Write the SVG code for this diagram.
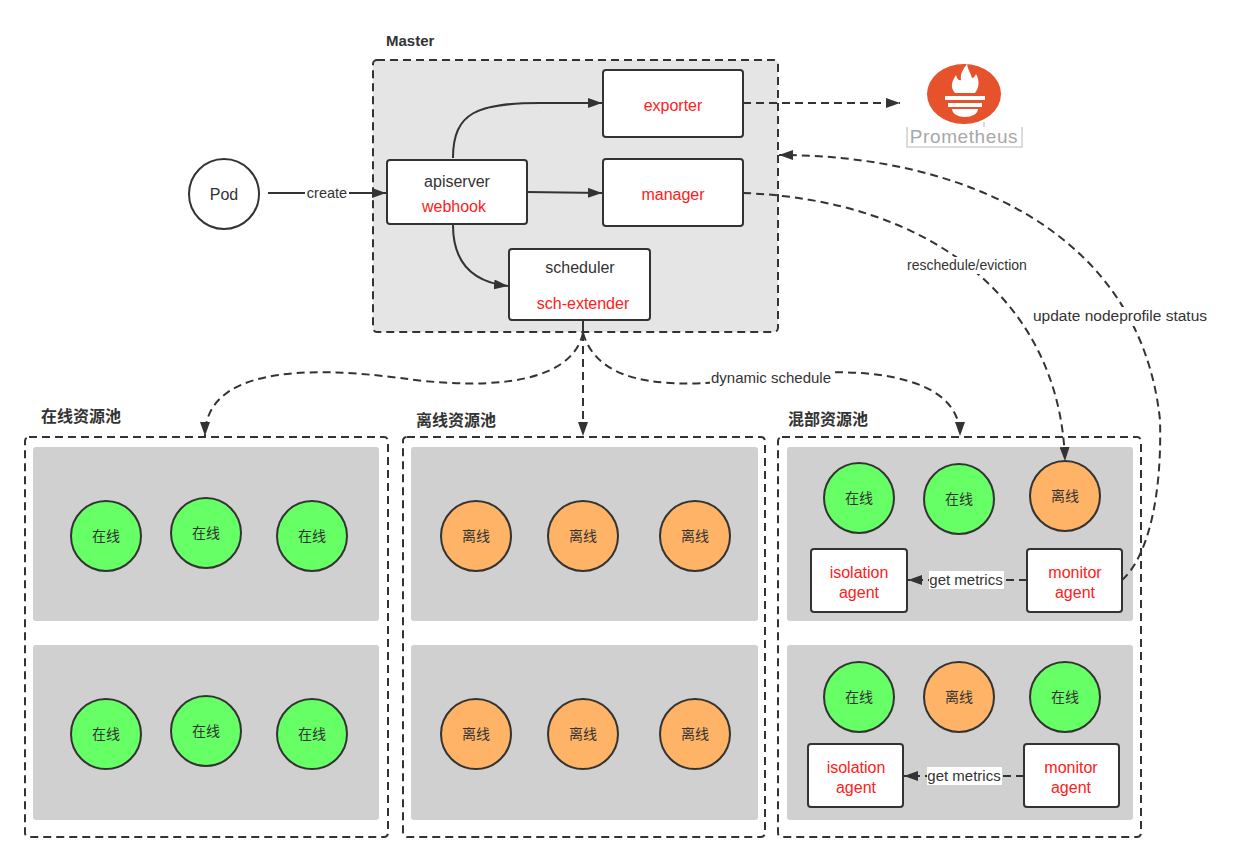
<svg xmlns="http://www.w3.org/2000/svg" width="1258" height="863" viewBox="0 0 1258 863">
<style>
text{font-family:"Liberation Sans","Noto Sans CJK SC",sans-serif;}
.t{font-size:16px;fill:#333;text-anchor:middle;}
.r{font-size:16px;fill:#ff2020;text-anchor:middle;}
.c{font-size:14px;fill:#333;text-anchor:middle;font-family:"Noto Sans CJK SC",sans-serif;}
.lbl{font-size:14.5px;fill:#333;text-anchor:middle;}
.h{font-size:16px;font-weight:bold;fill:#333;font-family:"Noto Sans CJK SC",sans-serif;}
.box{fill:#fff;stroke:#333;stroke-width:2;}
.pool{fill:none;stroke:#333;stroke-width:2;stroke-dasharray:8 5;}
.panel{fill:#d0d0d0;}
.on{fill:#66ff66;stroke:#333;stroke-width:2;}
.off{fill:#ffb366;stroke:#333;stroke-width:2;}
.ln{fill:none;stroke:#333;stroke-width:2;}
.dl{fill:none;stroke:#333;stroke-width:2;stroke-dasharray:8 5;}
.bg{fill:#fff;}
</style>
<defs>
<marker id="ah" markerUnits="userSpaceOnUse" markerWidth="14" markerHeight="10" viewBox="0 0 14 10" refX="14" refY="5" orient="auto">
<path d="M0,0 L14,5 L0,10 z" fill="#333"/>
</marker>
</defs>
<rect width="1258" height="863" fill="#fff"/>

<g id="master">
<text x="386" y="46" class="h" style="font-size:15px;font-family:'Liberation Sans',sans-serif">Master</text>
<rect x="373" y="60" width="405" height="272" rx="4" fill="#e5e5e5" stroke="#333" stroke-width="2" stroke-dasharray="8 5"/>
</g>

<g id="pool-online">
<text x="41" y="422" class="h">在线资源池</text>
<rect x="25" y="437" width="363" height="400" rx="4" class="pool"/>
<rect x="33" y="447" width="346" height="174" rx="3" class="panel"/>
<rect x="33" y="645" width="346" height="175" rx="3" class="panel"/>
</g>
<g id="pool-offline">
<text x="416" y="426" class="h">离线资源池</text>
<rect x="403" y="437" width="362" height="400" rx="4" class="pool"/>
<rect x="411" y="447" width="347" height="174" rx="3" class="panel"/>
<rect x="411" y="645" width="347" height="175" rx="3" class="panel"/>
</g>
<g id="pool-mixed">
<text x="788" y="425" class="h">混部资源池</text>
<rect x="778" y="437" width="363" height="400" rx="4" class="pool"/>
<rect x="787" y="447" width="346" height="174" rx="3" class="panel"/>
<rect x="787" y="645" width="346" height="175" rx="3" class="panel"/>
</g>

<g id="connectors">
<path class="ln" d="M268,193 L386,193" marker-end="url(#ah)"/>
<rect class="bg" x="305" y="185" width="44" height="17"/>
<text x="327" y="198" class="lbl">create</text>
<path class="ln" d="M453,158 C453,112 478,103 540,103 L602,103" marker-end="url(#ah)"/>
<path class="ln" d="M527,192 L602,193" marker-end="url(#ah)"/>
<path class="ln" d="M453,225 C453,262 472,282 508,286" marker-end="url(#ah)"/>
<path class="dl" d="M743,103 L900,103" marker-end="url(#ah)"/>
<path class="dl" d="M743,193 C930,200 1060,300 1065,461" marker-end="url(#ah)"/>
<rect class="bg" x="905" y="257" width="124" height="17"/>
<text x="967" y="270" class="lbl" style="font-size:14px">reschedule/eviction</text>
<path class="dl" d="M1122,580 C1150,555 1162,490 1160,420 C1140,230 960,155 779,155" marker-end="url(#ah)"/>
<rect class="bg" x="1031" y="307" width="178" height="19"/>
<text x="1120" y="321" class="lbl" style="font-size:15.5px">update nodeprofile status</text>
<path class="ln" d="M583,320 L583,333"/>
<path class="dl" d="M583,333 C570,390 470,388 400,378 C300,365 205,370 205,436" marker-end="url(#ah)"/>
<path class="dl" d="M583,333 L583,436" marker-end="url(#ah)"/>
<path class="dl" d="M583,333 C600,390 680,388 760,378 C850,365 960,370 960,436" marker-end="url(#ah)"/>
<rect class="bg" x="710" y="370" width="122" height="17"/>
<text x="771" y="383" class="lbl" style="font-size:15px">dynamic schedule</text>
<path class="dl" d="M1027,580 L908,580" marker-end="url(#ah)"/>
<rect class="bg" x="929" y="571" width="75" height="18"/>
<text x="966" y="585" class="lbl" style="font-size:15px">get metrics</text>
<path class="dl" d="M1024,776 L904,776" marker-end="url(#ah)"/>
<rect class="bg" x="927" y="767" width="75" height="18"/>
<text x="964" y="781" class="lbl" style="font-size:15px">get metrics</text>
</g>

<g id="pod">
<circle cx="224" cy="194" r="35" fill="#fff" stroke="#333" stroke-width="2"/>
<text x="224" y="200" class="t">Pod</text>
</g>
<g id="apiserver">
<rect x="387" y="160" width="140" height="64" rx="3" class="box"/>
<text x="457" y="187" class="t">apiserver</text>
<text x="454" y="212" class="r">webhook</text>
</g>
<g id="exporter">
<rect x="603" y="70" width="140" height="67" rx="3" class="box"/>
<text x="673" y="111" class="r">exporter</text>
</g>
<g id="manager">
<rect x="603" y="159" width="140" height="67" rx="3" class="box"/>
<text x="673" y="200" class="r">manager</text>
</g>
<g id="scheduler">
<rect x="509" y="249" width="141" height="71" rx="3" class="box"/>
<text x="580" y="273" class="t">scheduler</text>
<text x="583" y="309" class="r">sch-extender</text>
</g>

<g id="prometheus">
<ellipse cx="964" cy="94" rx="37" ry="30" fill="#e6522c"/>
<path d="M955,93 C949,86 953,80 956,75 C957,79 959,81 961,80 C960,74 963,69 967,64 C968,70 971,74 972,78 C974,78 975,76 976,74 C980,81 979,88 975,93 Z" fill="#fff"/>
<rect x="945" y="96" width="40" height="4" fill="#fff"/>
<rect x="948" y="103" width="34" height="4" fill="#fff"/>
<path d="M952,109 L978,109 A13,8 0 0 1 952,109 Z" fill="#fff"/>
<path d="M984,122 L984,127 M907,127 L907,147 L1022,147 L1022,127" fill="none" stroke="#d0d0d0" stroke-width="1.5"/>
<text x="964" y="143" text-anchor="middle" style="font-size:19px;letter-spacing:0.6px;fill:#a8a8a8">Prometheus</text>
</g>

<g id="online-nodes">
<circle cx="106" cy="536" r="35" class="on"/><text x="106" y="541" class="c">在线</text>
<circle cx="206" cy="533" r="35" class="on"/><text x="206" y="538" class="c">在线</text>
<circle cx="312" cy="536" r="35" class="on"/><text x="312" y="541" class="c">在线</text>
<circle cx="106" cy="734" r="35" class="on"/><text x="106" y="739" class="c">在线</text>
<circle cx="206" cy="731" r="35" class="on"/><text x="206" y="736" class="c">在线</text>
<circle cx="312" cy="734" r="35" class="on"/><text x="312" y="739" class="c">在线</text>
</g>
<g id="offline-nodes">
<circle cx="476" cy="536" r="35" class="off"/><text x="476" y="541" class="c">离线</text>
<circle cx="583" cy="536" r="35" class="off"/><text x="583" y="541" class="c">离线</text>
<circle cx="695" cy="536" r="35" class="off"/><text x="695" y="541" class="c">离线</text>
<circle cx="476" cy="734" r="35" class="off"/><text x="476" y="739" class="c">离线</text>
<circle cx="583" cy="734" r="35" class="off"/><text x="583" y="739" class="c">离线</text>
<circle cx="695" cy="734" r="35" class="off"/><text x="695" y="739" class="c">离线</text>
</g>
<g id="mixed-node-1">
<circle cx="859" cy="498" r="35" class="on"/><text x="859" y="503" class="c">在线</text>
<circle cx="959" cy="499" r="35" class="on"/><text x="959" y="504" class="c">在线</text>
<circle cx="1065" cy="496" r="35" class="off"/><text x="1065" y="501" class="c">离线</text>
</g>
<g id="isolation-agent-1">
<rect x="811" y="549" width="96" height="63" rx="3" class="box"/>
<text x="859" y="578" class="r">isolation</text>
<text x="859" y="598" class="r">agent</text>
</g>
<g id="monitor-agent-1">
<rect x="1027" y="549" width="95" height="63" rx="3" class="box"/>
<text x="1075" y="578" class="r">monitor</text>
<text x="1075" y="598" class="r">agent</text>
</g>
<g id="mixed-node-2">
<circle cx="859" cy="697" r="35" class="on"/><text x="859" y="702" class="c">在线</text>
<circle cx="959" cy="697" r="35" class="off"/><text x="959" y="702" class="c">离线</text>
<circle cx="1065" cy="697" r="35" class="on"/><text x="1065" y="702" class="c">在线</text>
</g>
<g id="isolation-agent-2">
<rect x="808" y="744" width="95" height="63" rx="3" class="box"/>
<text x="856" y="773" class="r">isolation</text>
<text x="856" y="793" class="r">agent</text>
</g>
<g id="monitor-agent-2">
<rect x="1024" y="744" width="95" height="63" rx="3" class="box"/>
<text x="1071" y="773" class="r">monitor</text>
<text x="1071" y="793" class="r">agent</text>
</g>
</svg>
